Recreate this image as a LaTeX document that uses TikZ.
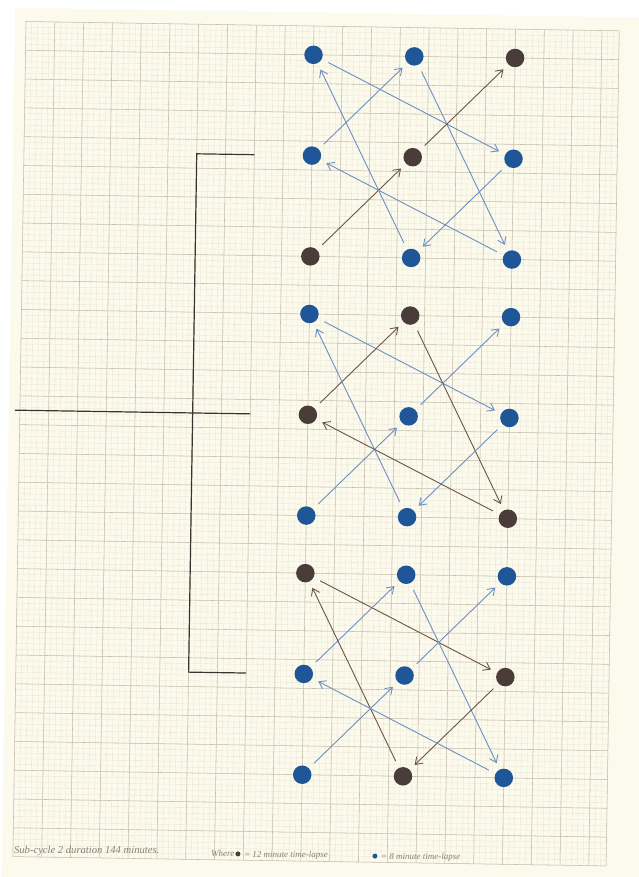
\documentclass[tikz,border=0pt]{standalone}
\usepackage{fontspec}
\setmainfont{Liberation Serif}
\usetikzlibrary{arrows.meta}
\definecolor{paper}{RGB}{252,250,236}
\definecolor{minorln}{RGB}{234,229,212}
\definecolor{majorln}{RGB}{200,193,174}
\definecolor{dotblue}{RGB}{30,86,152}
\definecolor{dotbrown}{RGB}{74,60,56}
\definecolor{arrblue}{RGB}{108,143,196}
\definecolor{arrbrown}{RGB}{108,84,70}
\definecolor{inkline}{RGB}{58,52,48}
\definecolor{pencil}{RGB}{135,128,116}
\tikzset{
  bdot/.style={circle,fill=dotblue,minimum size=18.5pt,inner sep=0pt,outer sep=0pt},
  ndot/.style={circle,fill=dotbrown,minimum size=18.5pt,inner sep=0pt,outer sep=0pt},
  conn/.style={line width=0.9pt,shorten <=7.5pt,shorten >=7pt,-{Straight Barb[length=6.5pt,width=9pt]}},
  ab/.style={conn,draw=arrblue},
  an/.style={conn,draw=arrbrown},
  minorgrid/.style={draw=minorln,line width=0.35pt},
  majorgrid/.style={draw=majorln,line width=0.55pt},
  bracketln/.style={draw=inkline,line width=1.2pt},
  hand/.style={font=\fontsize{9}{10}\selectfont\itshape,text=pencil,inner sep=0pt},
  handbig/.style={font=\fontsize{10.6}{12}\selectfont\itshape,text=pencil,inner sep=0pt},
  keydot/.style={circle,inner sep=0pt,minimum size=5pt}
}
\begin{document}
\begin{tikzpicture}[x=1pt,y=-1pt]
\useasboundingbox (0,0) rectangle (638,877);
\fill[white] (0,0) rectangle (638,877);
\begin{scope}[shift={(26,21.5)},rotate=-0.9]
% paper
\fill[paper] (-11,-13.5) rectangle (660,900);
% grid
\foreach \i in {0,...,103} \draw[minorgrid] (\i*5.76,0) -- (\i*5.76,835.2);
\foreach \j in {0,...,145} \draw[minorgrid] (0,\j*5.76) -- (593.28,\j*5.76);
\foreach \i in {0,...,20} \draw[majorgrid] (\i*28.8,0) -- (\i*28.8,835.2);
\foreach \j in {0,...,29} \draw[majorgrid] (0,\j*28.8) -- (593.28,\j*28.8);
\draw[majorgrid] (593.28,0) -- (593.28,835.2);
% bracket
\draw[bracketln] (230.4,129.6) -- (172.8,129.6) -- (172.8,648) -- (230.4,648);
\draw[bracketln] (-5,388.8) -- (230.4,388.8);
% group 1
\node[bdot] (a11) at (288,28.8) {};
\node[bdot] (a12) at (388.8,28.8) {};
\node[ndot] (a13) at (489.6,28.8) {};
\node[bdot] (a21) at (288,129.6) {};
\node[ndot] (a22) at (388.8,129.6) {};
\node[bdot] (a23) at (489.6,129.6) {};
\node[ndot] (a31) at (288,230.4) {};
\node[bdot] (a32) at (388.8,230.4) {};
\node[bdot] (a33) at (489.6,230.4) {};
% group 2
\node[bdot] (b11) at (288,288) {};
\node[ndot] (b12) at (388.8,288) {};
\node[bdot] (b13) at (489.6,288) {};
\node[ndot] (b21) at (288,388.8) {};
\node[bdot] (b22) at (388.8,388.8) {};
\node[bdot] (b23) at (489.6,388.8) {};
\node[bdot] (b31) at (288,489.6) {};
\node[bdot] (b32) at (388.8,489.6) {};
\node[ndot] (b33) at (489.6,489.6) {};
% group 3
\node[ndot] (c11) at (288,547.2) {};
\node[bdot] (c12) at (388.8,547.2) {};
\node[bdot] (c13) at (489.6,547.2) {};
\node[bdot] (c21) at (288,648) {};
\node[bdot] (c22) at (388.8,648) {};
\node[ndot] (c23) at (489.6,648) {};
\node[bdot] (c31) at (288,748.8) {};
\node[ndot] (c32) at (388.8,748.8) {};
\node[bdot] (c33) at (489.6,748.8) {};
% arrows group 1
\draw[ab] (a11) -- (a23);
\draw[ab] (a21) -- (a12);
\draw[ab] (a32) -- (a11);
\draw[ab] (a12) -- (a33);
\draw[an] (a22) -- (a13);
\draw[an] (a31) -- (a22);
\draw[ab] (a23) -- (a32);
\draw[ab] (a33) -- (a21);
% arrows group 2
\draw[ab] (b11) -- (b23);
\draw[an] (b21) -- (b12);
\draw[ab] (b32) -- (b11);
\draw[an] (b12) -- (b33);
\draw[ab] (b22) -- (b13);
\draw[ab] (b31) -- (b22);
\draw[ab] (b23) -- (b32);
\draw[an] (b33) -- (b21);
% arrows group 3
\draw[an] (c11) -- (c23);
\draw[ab] (c21) -- (c12);
\draw[an] (c32) -- (c11);
\draw[ab] (c12) -- (c33);
\draw[ab] (c22) -- (c13);
\draw[ab] (c31) -- (c22);
\draw[an] (c23) -- (c32);
\draw[ab] (c33) -- (c21);
% caption
\node[handbig,anchor=base west] (cap) at (1,832) {Sub-cycle 2 duration 144 minutes.};
\node[hand,anchor=base west] (where) at (198,832) {Where};
\node[keydot,fill=dotbrown] (kbrown) at (225,829) {};
\node[hand,anchor=base west] (k1) at (231,832) {= 12 minute time-lapse};
\node[keydot,fill=dotblue] (kblue) at (362,829) {};
\node[hand,anchor=base west] (k2) at (368,832) {= 8 minute time-lapse};
\end{scope}
\end{tikzpicture}
\end{document}
